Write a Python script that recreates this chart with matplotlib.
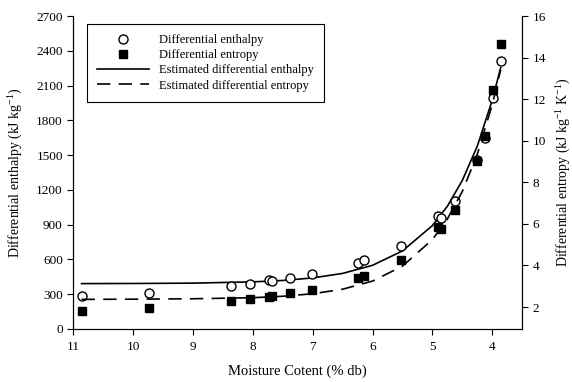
import matplotlib
matplotlib.use("Agg")
import matplotlib.pyplot as plt

plt.rcParams["font.family"] = ["Liberation Serif", "DejaVu Serif"]
plt.rcParams["mathtext.fontset"] = "custom"
plt.rcParams["mathtext.rm"] = "Liberation Serif"
plt.rcParams["mathtext.it"] = "Liberation Serif:italic"

# measured points
moisture = [10.86, 9.74, 8.37, 8.04, 7.73, 7.68, 7.38, 7.01, 6.25, 6.15,
            5.52, 4.90, 4.86, 4.63, 4.25, 4.13, 3.98, 3.86]
enthalpy = [280, 313, 374, 391, 420, 417, 443, 474, 567, 595,
            716, 975, 955, 1104, 1460, 1650, 1990, 2312]
entropy = [1.80, 1.95, 2.27, 2.37, 2.50, 2.52, 2.66, 2.82, 3.39, 3.51,
           4.27, 5.85, 5.74, 6.67, 9.02, 10.21, 12.45, 14.64]

# estimated curves
curve_m = [10.86, 10, 9, 8, 7.5, 7, 6.5, 6, 5.5, 5, 4.75, 4.5, 4.25, 4.0, 3.86]
est_enthalpy = [391, 392, 395, 406, 418, 440, 479, 549, 673, 892,
                1059, 1282, 1578, 1976, 2254]
est_entropy = [2.37, 2.38, 2.40, 2.45, 2.52, 2.64, 2.86, 3.25, 3.97, 5.25,
               6.24, 7.57, 9.35, 11.75, 13.42]

fig = plt.figure(figsize=(5.72, 3.82), dpi=100)
ax = fig.add_axes([0.128, 0.139, 0.785, 0.819])
ax2 = ax.twinx()

l1, = ax.plot(curve_m, est_enthalpy, color="black", lw=1.2)
p1, = ax.plot(moisture, enthalpy, "o", mfc="white", mec="black", ms=6.5, mew=1.0, zorder=5)
l2, = ax2.plot(curve_m, est_entropy, color="black", lw=1.2, dashes=(8, 5))
p2, = ax2.plot(moisture, entropy, "s", color="black", ms=6, zorder=5)

ax.set_xlim(11, 3.5)
ax.set_ylim(0, 2700)
ax2.set_ylim(0.95, 16)
ax.set_xticks(range(11, 3, -1))
ax.set_yticks(range(0, 2701, 300))
ax2.set_yticks(range(2, 17, 2))

for a in (ax, ax2):
    a.spines["top"].set_visible(False)
    a.tick_params(direction="out", length=4, labelsize=9.5, width=0.8)
ax.tick_params(axis="x", pad=5)

ax.set_xlabel("Moisture Cotent (% db)", fontsize=10.5, labelpad=8)
ax.set_ylabel("Differential enthalpy (kJ kg$^{-1}$)", fontsize=10, labelpad=8)
ax2.set_ylabel("Differential entropy (kJ kg$^{-1}$ K$^{-1}$)", fontsize=10, labelpad=6)

leg = ax.legend([p1, p2, l1, l2],
                ["Differential enthalpy", "Differential entropy",
                 "Estimated differential enthalpy", "Estimated differential entropy"],
                loc="upper left", bbox_to_anchor=(0.016, 0.994), fontsize=9,
                handlelength=4.2, fancybox=False, edgecolor="black",
                framealpha=1, borderpad=0.8, labelspacing=0.25)
leg.get_frame().set_linewidth(0.8)

plt.savefig("out.png", dpi=100)
